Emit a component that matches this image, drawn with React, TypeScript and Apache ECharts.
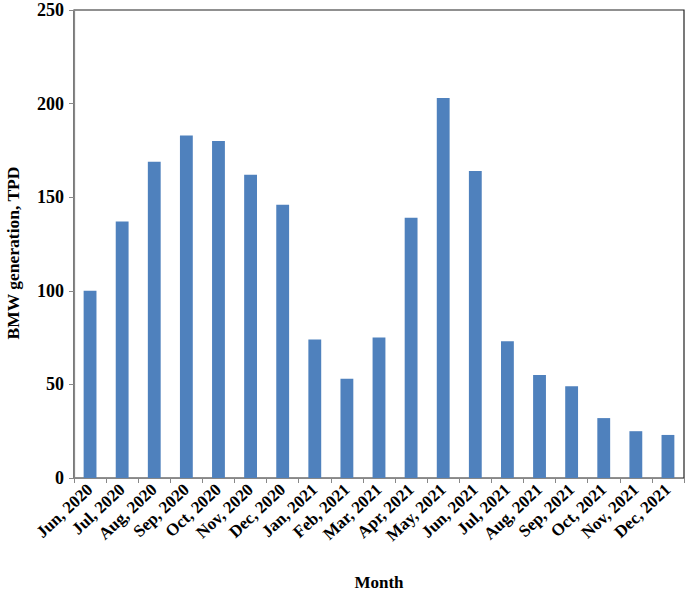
import React, { useEffect, useRef } from "react";
import * as echarts from "echarts";

const months = [
  "Jun, 2020", "Jul, 2020", "Aug, 2020", "Sep, 2020", "Oct, 2020", "Nov, 2020", "Dec, 2020",
  "Jan, 2021", "Feb, 2021", "Mar, 2021", "Apr, 2021", "May, 2021", "Jun, 2021", "Jul, 2021",
  "Aug, 2021", "Sep, 2021", "Oct, 2021", "Nov, 2021", "Dec, 2021",
];
const bmwGeneration = [100, 137, 169, 183, 180, 162, 146, 74, 53, 75, 139, 203, 164, 73, 55, 49, 32, 25, 23];
const yMin = 0;
const yMax = 250;
const yInterval = 50;

const FONT = "'Liberation Serif', 'Times New Roman', serif";

export default function App() {
  const ref = useRef<HTMLDivElement>(null);
  useEffect(() => {
    if (!ref.current) return;
    const chart = echarts.init(ref.current, null, { renderer: "svg" });
    chart.setOption({
      animation: false,
      backgroundColor: "#ffffff",
      grid: {
        left: 74,
        right: 5,
        top: 10,
        bottom: 116,
        show: true,
        borderColor: "#222",
        borderWidth: 1.2,
        containLabel: false,
        outerBoundsMode: "none",
      },
      xAxis: {
        type: "category",
        data: months,
        name: "Month",
        nameLocation: "middle",
        nameGap: 96,
        nameTextStyle: { fontFamily: FONT, fontWeight: "bold", fontSize: 17, color: "#000" },
        axisLine: { show: true, lineStyle: { color: "#888", width: 1.2 } },
        axisTick: { show: true, length: 5, alignWithLabel: false, lineStyle: { color: "#888" } },
        axisLabel: {
          rotate: 43,
          interval: 0,
          margin: 9,
          fontFamily: FONT,
          fontWeight: "bold",
          fontSize: 17,
          color: "#000",
        },
        splitLine: { show: false },
      },
      yAxis: {
        type: "value",
        min: yMin,
        max: yMax,
        interval: yInterval,
        name: "BMW generation, TPD",
        nameLocation: "middle",
        nameGap: 52,
        nameTextStyle: { fontFamily: FONT, fontWeight: "bold", fontSize: 17.5, color: "#000", padding: [0, 18, 0, 0] },
        axisLine: { show: true, lineStyle: { color: "#888", width: 1.2 } },
        axisTick: { show: true, length: 5, inside: false, lineStyle: { color: "#888" } },
        axisLabel: {
          margin: 10,
          fontFamily: FONT,
          fontWeight: "bold",
          fontSize: 18,
          color: "#000",
        },
        splitLine: { show: false },
      },
      series: [
        {
          type: "bar",
          data: bmwGeneration,
          barCategoryGap: "60%",
          itemStyle: { color: "#4f81bd" },
        },
      ],
    });
    return () => chart.dispose();
  }, []);
  return (
    <div
      ref={ref}
      style={{ position: "fixed", left: 0, top: 0, width: 689, height: 594 }}
    />
  );
}
